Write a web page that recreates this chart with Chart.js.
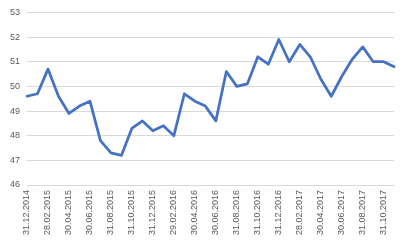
<!DOCTYPE html>
<html>
<head>
<meta charset="utf-8">
<script src="https://cdn.jsdelivr.net/npm/chart.js@4/dist/chart.umd.min.js"></script>
<style>
html,body{margin:0;padding:0;background:#fff;}
#wrap{width:410px;height:246px;position:relative;}
</style>
</head>
<body>
<div id="wrap"><canvas id="c" width="410" height="246"></canvas></div>
<script>
const categories = [
  "31.12.2014","31.01.2015","28.02.2015","31.03.2015","30.04.2015","31.05.2015",
  "30.06.2015","31.07.2015","31.08.2015","30.09.2015","31.10.2015","30.11.2015",
  "31.12.2015","31.01.2016","29.02.2016","31.03.2016","30.04.2016","31.05.2016",
  "30.06.2016","31.07.2016","31.08.2016","30.09.2016","31.10.2016","30.11.2016",
  "31.12.2016","31.01.2017","28.02.2017","31.03.2017","30.04.2017","31.05.2017",
  "30.06.2017","31.07.2017","31.08.2017","30.09.2017","31.10.2017","30.11.2017"
];
const values = [
  49.6,49.7,50.7,49.6,48.9,49.2,
  49.4,47.8,47.3,47.2,48.3,48.6,
  48.2,48.4,48.0,49.7,49.4,49.2,
  48.6,50.6,50.0,50.1,51.2,50.9,
  51.9,51.0,51.7,51.2,50.3,49.6,
  50.4,51.1,51.6,51.0,51.0,50.8
];
const yTicks = [46,47,48,49,50,51,52,53];

new Chart(document.getElementById('c'), {
  type: 'line',
  data: {
    labels: categories,
    datasets: [{
      data: values,
      borderColor: '#4472C4',
      borderWidth: 2.75,
      pointRadius: 0,
      fill: false,
      tension: 0,
      borderJoinStyle: 'round',
      borderCapStyle: 'round'
    }]
  },
  options: {
    responsive: false,
    animation: false,
    layout: { padding: { top: 12, right: 12, bottom: 0, left: 0 } },
    plugins: { legend: { display: false }, tooltip: { enabled: false } },
    scales: {
      x: {
        offset: false,
        grid: { display: false, drawTicks: false },
        border: { display: false },
        ticks: {
          autoSkip: false,
          minRotation: 90,
          maxRotation: 90,
          padding: 5,
          color: '#595959',
          font: { family: 'Liberation Sans', size: 9 },
          callback: function(v, i) { return i % 2 === 0 ? categories[i] : ''; }
        },
        afterFit: function(s) { s.height = 61; }
      },
      y: {
        min: yTicks[0],
        max: yTicks[yTicks.length - 1],
        afterBuildTicks: function(s) { s.ticks = yTicks.map(v => ({ value: v })); },
        grid: { color: '#d9d9d9', lineWidth: 1, drawTicks: false },
        border: { display: false },
        ticks: {
          padding: 7,
          color: '#595959',
          font: { family: 'Liberation Sans', size: 9 }
        },
        afterFit: function(s) { s.width = 27; }
      }
    }
  }
});
</script>
</body>
</html>
